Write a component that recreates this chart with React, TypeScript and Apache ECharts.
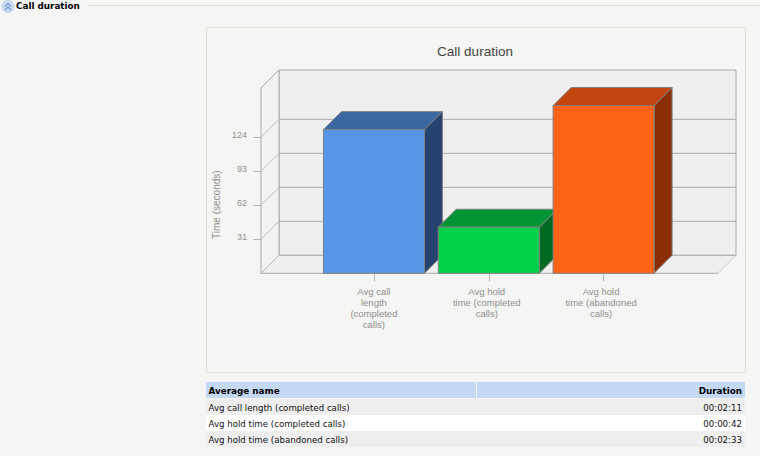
import React, { useEffect, useRef } from "react";
import * as echarts from "echarts";

const categories = ["Avg call length (completed calls)", "Avg hold time (completed calls)", "Avg hold time (abandoned calls)"];
const wrappedLabels = ["Avg call\nlength\n(completed\ncalls)", "Avg hold\ntime (completed\ncalls)", "Avg hold\ntime (abandoned\ncalls)"];
const seconds = [131, 42, 153];
const durations = ["00:02:11", "00:00:42", "00:02:33"];
const yTicks = [31, 62, 93, 124];
const frontColors = ["#5596e6", "#00d24a", "#ff6318"];
const topColors = ["#3a69a1", "#009432", "#c2450f"];
const sideColors = ["#24436e", "#006a24", "#892e07"];
const tableHead = ["Average name", "Duration"];

const DEPTH = 18;
const BAR_W = 101;
const LEFT_PAD = 55.5;
const RIGHT_PAD = 57;
const LINE = "#a9a9a9";
const BG = "#f5f5f3";
const UI_FONT = "'DejaVu Sans'";

function tableGraphics() {
  const out: any[] = [];
  out.push({ type: "rect", shape: { x: 206, y: 382, width: 539, height: 16 }, style: { fill: "#c4d9f5" } });
  out.push({ type: "rect", shape: { x: 476, y: 382, width: 1, height: 16 }, style: { fill: "#f2f6fc" } });
  out.push({ type: "text", x: 208.5, y: 390.5, style: { text: tableHead[0], font: `bold 8.8px ${UI_FONT}`, fill: "#000", textVerticalAlign: "middle" } });
  out.push({ type: "text", x: 742, y: 390.5, style: { text: tableHead[1], font: `bold 8.8px ${UI_FONT}`, fill: "#000", textAlign: "right", textVerticalAlign: "middle" } });
  categories.forEach((name, i) => {
    const y = 399 + i * 16;
    out.push({ type: "rect", shape: { x: 206, y, width: 539, height: 16 }, style: { fill: i % 2 === 0 ? "#eeeeee" : "#ffffff" } });
    out.push({ type: "text", x: 208.5, y: y + 8.5, style: { text: name, font: `8.65px ${UI_FONT}`, fill: "#111", textVerticalAlign: "middle" } });
    out.push({ type: "text", x: 742, y: y + 8.5, style: { text: durations[i], font: `8.65px ${UI_FONT}`, fill: "#111", textAlign: "right", textVerticalAlign: "middle" } });
  });
  return out;
}

const poly = (points: number[][], fill: string, stroke: string) => ({
  type: "polygon",
  shape: { points },
  style: { fill, stroke, lineWidth: 1 },
});
const seg = (x1: number, y1: number, x2: number, y2: number, stroke: string) => ({
  type: "line",
  shape: { x1, y1, x2, y2 },
  style: { stroke, lineWidth: 1, fill: "none" },
});

export default function App() {
  const ref = useRef<HTMLDivElement>(null);
  useEffect(() => {
    document.body.style.margin = "0";
    document.body.style.background = BG;
    const chart = echarts.init(ref.current!, undefined, { renderer: "svg" });
    chart.setOption({
      animation: false,
      backgroundColor: BG,
      title: {
        text: "Call duration",
        left: 470,
        top: 39,
        textAlign: "center",
        textStyle: { color: "#444", fontSize: 13.5, fontWeight: "normal", fontFamily: "'Liberation Sans'" },
      },
      grid: { left: 261 + LEFT_PAD, right: 760 - 718 + RIGHT_PAD, top: 88, bottom: 456 - 273.3, containLabel: false },
      xAxis: {
        type: "category",
        data: categories.map((value, i) => (i > 0 ? { value, textStyle: { padding: [0, i === 1 ? 4 : 5, 0, 0] } } : value)),
        axisLine: { show: false },
        axisTick: { show: true, alignWithLabel: true, length: 8, lineStyle: { color: "#b4b4b4" } },
        axisLabel: {
          interval: 0,
          margin: 13,
          lineHeight: 11,
          fontSize: 9.5,
          color: "#8f8f8f",
          fontFamily: "'Liberation Sans'",
          formatter: (_: string, i: number) => wrappedLabels[i],
        },
      },
      yAxis: {
        type: "value",
        min: 0,
        max: 169,
        offset: LEFT_PAD,
        name: "Time (seconds)",
        nameLocation: "middle",
        nameGap: 40,
        nameTextStyle: { color: "#8f8f8f", fontSize: 10, fontFamily: "'Liberation Sans'", padding: [0, 48, 0, 0] },
        axisLine: { show: false },
        splitLine: { show: false },
        axisTick: { show: true, length: 8, customValues: yTicks, lineStyle: { color: "#b4b4b4" } },
        axisLabel: { customValues: yTicks, margin: 14, fontSize: 9, verticalAlign: "bottom", lineHeight: 4, color: "#8f8f8f", fontFamily: "'Liberation Sans'" },
      },
      graphic: [
        { type: "rect", z: -10, shape: { x: 206.5, y: 27.5, width: 539, height: 345 }, style: { fill: BG, stroke: "#deded8", lineWidth: 1 } },
        { type: "circle", shape: { cx: 8, cy: 6.5, r: 6.5 }, style: { fill: "#c8daf2" } },
        { type: "polyline", shape: { points: [[5, 6.5], [8, 3.5], [11, 6.5]] }, style: { stroke: "#6e9edb", lineWidth: 1.2, fill: "none" } },
        { type: "polyline", shape: { points: [[5, 10], [8, 7], [11, 10]] }, style: { stroke: "#6e9edb", lineWidth: 1.2, fill: "none" } },
        { type: "text", x: 16, y: 6, style: { text: "Call duration", font: `bold 8.8px ${UI_FONT}`, fill: "#000", textVerticalAlign: "middle" } },
        { type: "line", shape: { x1: 88, y1: 5.5, x2: 760, y2: 5.5 }, style: { stroke: "#deded8", lineWidth: 1 } },
        ...tableGraphics(),
      ],
      series: [
        {
          type: "custom",
          silent: true,
          clip: false,
          z: 1,
          data: [0],
          encode: { x: -1, y: -1 },
          renderItem: (params: any) => {
            const c = params.coordSys;
            const l = c.x - LEFT_PAD;
            const r = c.x + c.width + RIGHT_PAD;
            const t = c.y;
            const b = c.y + c.height;
            return {
              type: "group",
              children: [
                poly([[l + DEPTH, t - DEPTH], [r + DEPTH, t - DEPTH], [r + DEPTH, b - DEPTH], [l + DEPTH, b - DEPTH]], "#efefef", LINE),
                poly([[l, t], [l + DEPTH, t - DEPTH], [l + DEPTH, b - DEPTH], [l, b]], "#f2f2f1", LINE),
                poly([[l, b], [l + DEPTH, b - DEPTH], [r + DEPTH, b - DEPTH], [r, b]], "#efefef", "none"),
                seg(l + DEPTH, b - DEPTH, r + DEPTH, b - DEPTH, LINE),
                seg(l, b, l + DEPTH, b - DEPTH, "#bdbdbd"),
                seg(r, b, r + DEPTH, b - DEPTH, "#c8c8c8"),
                seg(l, b, r, b, LINE),
              ],
            };
          },
        },
        {
          type: "custom",
          silent: true,
          clip: false,
          z: 2,
          data: yTicks.map((v) => [0, v]),
          encode: { x: 0, y: 1 },
          renderItem: (params: any, api: any) => {
            const c = params.coordSys;
            const l = c.x - LEFT_PAD;
            const r = c.x + c.width + RIGHT_PAD;
            const y = api.coord([0, api.value(1)])[1];
            return {
              type: "group",
              children: [
                seg(l, y, l + DEPTH, y - DEPTH, "#bdbdbd"),
                seg(l + DEPTH, y - DEPTH, r + DEPTH, y - DEPTH, LINE),
              ],
            };
          },
        },
        {
          type: "custom",
          silent: true,
          clip: false,
          z: 3,
          data: seconds.map((v, i) => [i, v]),
          encode: { x: 0, y: 1 },
          renderItem: (_: any, api: any) => {
            const i = api.value(0);
            const [cx, top] = api.coord([i, api.value(1)]);
            const base = api.coord([i, 0])[1];
            const x0 = cx - BAR_W / 2;
            const x1 = cx + BAR_W / 2;
            const edge = "#808080";
            return {
              type: "group",
              children: [
                poly([[x1, top], [x1 + DEPTH, top - DEPTH], [x1 + DEPTH, base - DEPTH], [x1, base]], sideColors[i], edge),
                poly([[x0, top], [x0 + DEPTH, top - DEPTH], [x1 + DEPTH, top - DEPTH], [x1, top]], topColors[i], edge),
                poly([[x0, top], [x1, top], [x1, base], [x0, base]], frontColors[i], edge),
              ],
            };
          },
        },
      ],
    });
    return () => chart.dispose();
  }, []);
  return <div ref={ref} style={{ position: "fixed", left: 0, top: 0, width: 760, height: 456 }} />;
}
